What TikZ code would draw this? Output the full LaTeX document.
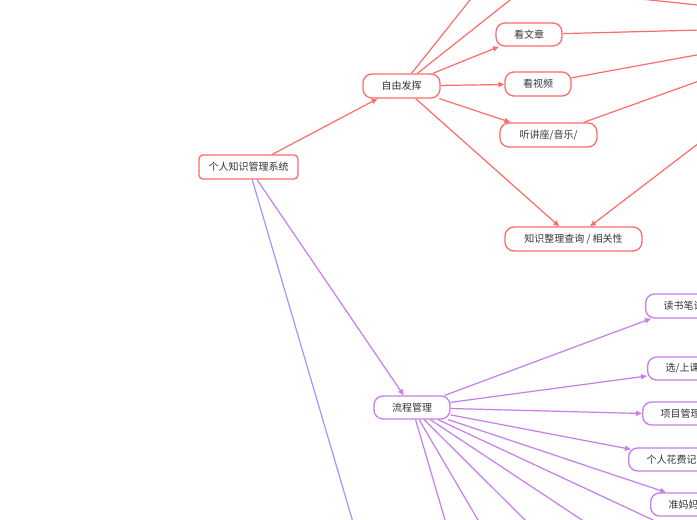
\documentclass[tikz,border=0pt]{standalone}
\usepackage{fontspec}
\setmainfont{Noto Sans CJK SC}
\usetikzlibrary{arrows.meta}
\definecolor{cred}{HTML}{FF6B6B}
\definecolor{cpur}{HTML}{C77DEB}
\definecolor{cblue}{HTML}{A394FF}
\definecolor{ctxt}{HTML}{333333}
\begin{document}
\begin{tikzpicture}[x=1pt,y=-1pt,
  box/.style={draw, fill=white, line width=1.3pt, text=ctxt,
    font=\fontsize{10}{12}\selectfont, inner ysep=0pt, inner xsep=0pt, minimum height=24pt},
  pill/.style={box, rounded corners=9pt},
  rootbox/.style={box, draw=cred, rounded corners=4pt},
  redbox/.style={pill, draw=cred},
  purbox/.style={pill, draw=cpur},
  cutbox/.style={purbox, anchor=west, inner xsep=18pt},
  tip/.style={-{Triangle[length=6pt,width=5pt]}},
  redline/.style={draw=cred, line width=1.2pt, tip},
  purline/.style={draw=cpur, line width=1.2pt, tip},
  blueline/.style={draw=cblue, line width=1.2pt, tip}]
\clip (0,0) rectangle (697,520);
\fill[white] (0,0) rectangle (697,520);

% named free ends
\coordinate (u1) at (482,-15);
\coordinate (u2) at (529,-15);
\coordinate (t1) at (600,-5.3);
\coordinate (t2) at (720,7.4);
\coordinate (r1) at (720,29.5);
\coordinate (r2) at (720,50.7);
\coordinate (r3) at (720,73.5);
\coordinate (r4) at (720,127);
\coordinate (b1) at (358.2,540);
\coordinate (d1) at (450.9,540);
\coordinate (d2) at (489.7,540);
\coordinate (d3) at (545.1,540);
\coordinate (d4) at (612.2,540);
\coordinate (d5) at (695.9,540);

% nodes
\node[rootbox, minimum width=99pt] (root) at (248.5,167) {个人知识管理系统};
\node[redbox, minimum width=77pt] (ff) at (401.5,86) {自由发挥};
\node[redbox, minimum width=66pt, minimum height=23pt] (wz) at (529,34.5) {看文章};
\node[redbox, minimum width=66pt] (sp) at (538,84) {看视频};
\node[redbox, minimum width=97pt] (jz) at (548.5,135) {听讲座/音乐/};
\node[redbox, minimum width=137pt] (zs) at (573.5,239) {知识整理查询 / 相关性};
\node[purbox, minimum width=76pt, minimum height=23pt] (lc) at (412,407.5) {流程管理};
\node[cutbox] (ds) at (645,306) {读书笔记};
\node[cutbox, minimum height=23pt] (xk) at (647,368.5) {选/上课};
\node[cutbox, minimum height=23pt] (xm) at (642,413.5) {项目管理};
\node[cutbox, minimum height=23pt] (hf) at (628,459.5) {个人花费记录};
\node[cutbox, minimum height=23pt] (zm) at (650,504.5) {准妈妈};

% red connectors
\draw[redline] (root) -- (ff);
\draw[redline] (ff) -- (u1);
\draw[redline] (ff) -- (u2);
\draw[redline] (ff) -- (wz);
\draw[redline] (ff) -- (sp);
\draw[redline] (ff) -- (jz);
\draw[redline] (ff) -- (zs);
\draw[redline] (t1) -- (t2);
\draw[redline] (wz) -- (r1);
\draw[redline] (sp) -- (r2);
\draw[redline] (jz) -- (r3);
\draw[redline] (r4) -- (zs);

% purple / blue connectors
\draw[purline] (root) -- (lc);
\draw[blueline] (root) -- (b1);
\draw[purline] (lc) -- ([xshift=6pt]ds.south west);
\draw[purline] (lc) -- ([yshift=-7.5pt]xk.west);
\draw[purline] (lc) -- (xm.west);
\draw[purline] (lc) -- ([xshift=3pt,yshift=-2pt]hf.north west);
\draw[purline] (lc) -- ([xshift=16pt]zm.north west);
\draw[purline] (lc) -- (d1);
\draw[purline] (lc) -- (d2);
\draw[purline] (lc) -- (d3);
\draw[purline] (lc) -- (d4);
\draw[purline] (lc) -- (d5);
\end{tikzpicture}
\end{document}
